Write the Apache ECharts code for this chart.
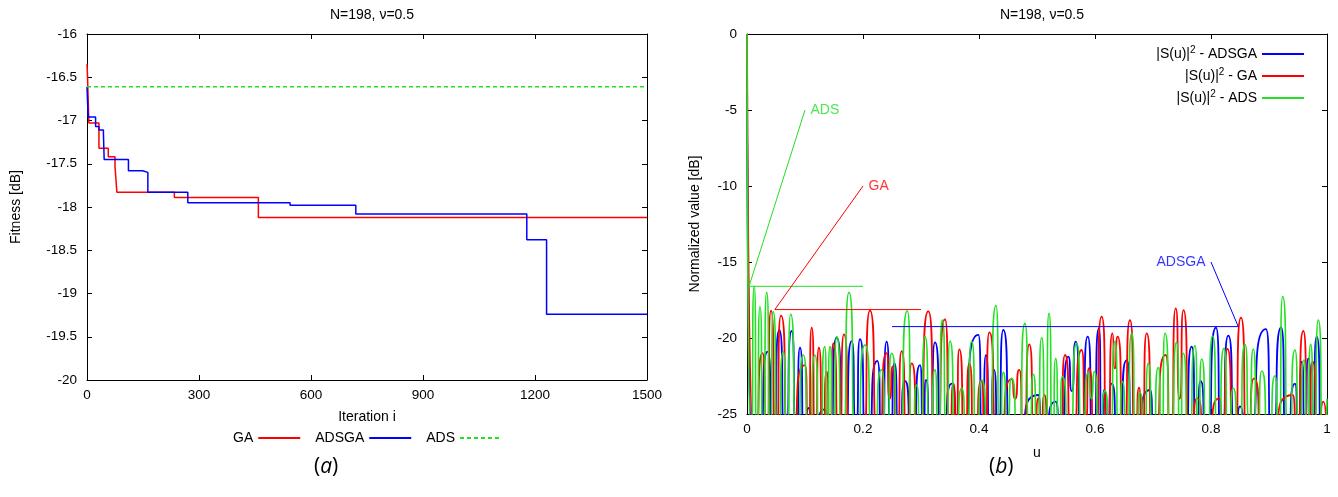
<!DOCTYPE html>
<html>
<head>
<meta charset="utf-8">
<title>N=198</title>
<script src="https://cdn.jsdelivr.net/npm/echarts@6/dist/echarts.min.js"></script>
<style>
  html, body { margin: 0; padding: 0; background: #fff; }
  #chart { width: 1338px; height: 497px; }
</style>
</head>
<body>
<div id="chart"></div>
<script>
// ---- left plot: fitness vs iteration (step curves) ----
var iterTicks = [0, 300, 600, 900, 1200, 1500];
var fitTicks = [-20, -19.5, -19, -18.5, -18, -17.5, -17, -16.5, -16];

var gaIter = [0, 1, 5, 32, 57, 75, 80, 234, 459, 1500];
var gaFit = [-16.35, -16.44, -17.03, -17.32, -17.42, -17.53, -17.83, -17.89, -18.12, -18.12];

var adsgaIter = [0, 3, 23, 32, 44, 46, 111, 149, 163, 270, 544, 720, 1178, 1231, 1500];
var adsgaFit = [-16.61, -16.96, -17.07, -17.11, -17.15, -17.45, -17.58, -17.60, -17.83, -17.95, -17.98, -18.08, -18.38, -19.24, -19.24];

var adsIter = [0, 1500];
var adsFit = [-16.61, -16.61];

// ---- right plot: normalized spectrum |S(u)|^2 in dB, [u, dB] (peaks and nulls) ----
var uTicks = [0, 0.2, 0.4, 0.6, 0.8, 1];
var dbTicks = [-25, -20, -15, -10, -5, 0];

var adsgaSpec = [
  [0,0],[0.009,-27],[0.02,-27],[0.0356,-20.9],[0.045,-27],[0.0557,-19.47],[0.066,-27],[0.077,-19.54],
  [0.085,-27],[0.0914,-20.64],[0.099,-27],[0.106,-24.6],[0.112,-27],[0.134,-24.7],[0.142,-27],
  [0.1546,-19.97],[0.168,-27],[0.1805,-20.2],[0.188,-26],[0.1948,-20.07],[0.206,-27],[0.2247,-21.51],
  [0.233,-27],[0.2408,-20.24],[0.248,-26.5],[0.254,-21.66],[0.262,-27],[0.2724,-22.83],[0.285,-27],
  [0.2983,-21.78],[0.304,-26],[0.3086,-22.76],[0.316,-27],[0.3241,-20.29],[0.336,-27],[0.3529,-23.0],
  [0.365,-27],[0.3989,-19.8],[0.406,-27],[0.412,-21.12],[0.419,-27],[0.4259,-22.1],[0.433,-27],
  [0.4419,-19.47],[0.455,-27],[0.5023,-23.75],[0.508,-27],[0.5322,-24.19],[0.54,-27],[0.554,-21.23],
  [0.56,-23.5],[0.5667,-20.24],[0.577,-27],[0.5874,-19.91],[0.597,-27],[0.6069,-19.36],[0.6115,-27],
  [0.616,-23.42],[0.621,-27],[0.6287,-23.0],[0.64,-27],[0.6546,-21.45],[0.665,-27],[0.6948,-23.42],
  [0.702,-27],[0.755,-27],[0.7667,-20.57],[0.775,-27],[0.7822,-22.83],[0.792,-27],[0.8086,-19.32],
  [0.818,-27],[0.8299,-19.85],[0.842,-27],[0.85,-24.5],[0.86,-27],[0.8948,-19.41],[0.905,-27],
  [0.921,-19.3],[0.93,-27],[0.9448,-23.0],[0.951,-27],[0.9564,-21.56],[0.962,-25.5],[0.9678,-21.34],
  [0.975,-27],[0.9822,-19.91],[0.992,-27],[1,-25.5]
];

var gaSpec = [
  [0,0],[0.013,-27],[0.027,-21.0],[0.034,-27],[0.0414,-18.2],[0.05,-27],[0.0586,-18.53],[0.072,-27],
  [0.1,-21.78],[0.106,-27],[0.1115,-19.32],[0.118,-27],[0.124,-20.64],[0.131,-27],[0.1374,-22.21],
  [0.143,-27],[0.1488,-20.35],[0.159,-27],[0.1672,-19.76],[0.178,-27],[0.2,-27],[0.212,-18.2],
  [0.226,-27],[0.2408,-21.0],[0.246,-24],[0.2512,-21.88],[0.259,-27],[0.2667,-20.86],[0.276,-27],
  [0.284,-21.67],[0.296,-27],[0.3126,-18.25],[0.326,-27],[0.3414,-18.77],[0.35,-27],[0.3557,-23.0],
  [0.361,-26],[0.366,-20.75],[0.376,-27],[0.3833,-21.67],[0.392,-27],[0.4046,-22.83],[0.41,-27],
  [0.4178,-19.63],[0.432,-27],[0.4563,-22.7],[0.462,-24],[0.4695,-22.1],[0.477,-27],[0.4868,-20.42],
  [0.496,-27],[0.5023,-23.97],[0.507,-27],[0.5126,-23.75],[0.52,-27],[0.54,-27],[0.5483,-21.12],
  [0.56,-27],[0.577,-20.79],[0.584,-25.5],[0.5897,-21.99],[0.6,-27],[0.6115,-18.6],[0.622,-27],
  [0.6299,-19.69],[0.634,-22],[0.6391,-19.91],[0.65,-27],[0.6603,-18.82],[0.67,-27],[0.6759,-23.26],
  [0.681,-27],[0.6891,-19.69],[0.7,-27],[0.7218,-21.12],[0.731,-27],[0.7391,-18.05],[0.746,-24],
  [0.7525,-18.16],[0.764,-27],[0.7765,-23.97],[0.79,-27],[0.8143,-23.97],[0.82,-27],[0.8282,-20.72],
  [0.84,-27],[0.8517,-18.66],[0.863,-27],[0.8741,-22.65],[0.89,-27],[0.9408,-23.75],[0.948,-27],
  [0.9592,-19.54],[0.968,-27],[0.9753,-21.56],[0.985,-27],[0.9937,-24.19],[1,-27]
];

var adsSpec = [
  [0,0],[0.007,-27],[0.0125,-16.6],[0.017,-27],[0.0224,-17.94],[0.028,-27],[0.034,-17.0],[0.04,-27],
  [0.0454,-18.27],[0.053,-27],[0.0626,-20.9],[0.069,-27],[0.0753,-18.44],[0.086,-27],[0.097,-21.12],
  [0.107,-27],[0.117,-21.12],[0.126,-27],[0.134,-20.57],[0.1385,-26],[0.143,-20.57],[0.149,-27],
  [0.1546,-19.91],[0.165,-27],[0.1759,-17.0],[0.188,-27],[0.2034,-20.46],[0.218,-27],[0.232,-22.1],
  [0.241,-27],[0.2494,-21.0],[0.262,-27],[0.2764,-18.22],[0.285,-27],[0.2925,-23.1],[0.299,-27],
  [0.3069,-19.91],[0.316,-27],[0.3241,-22.1],[0.33,-27],[0.3368,-18.82],[0.344,-26],[0.35,-20.2],
  [0.36,-27],[0.3701,-23.31],[0.379,-27],[0.3874,-20.24],[0.396,-27],[0.4046,-22.76],[0.417,-27],
  [0.4293,-17.87],[0.436,-27],[0.4419,-22.26],[0.449,-25.5],[0.4563,-22.65],[0.468,-27],[0.4793,-19.04],
  [0.487,-27],[0.4937,-22.39],[0.501,-27],[0.5081,-19.98],[0.515,-27],[0.5207,-18.38],[0.527,-27],
  [0.5322,-21.34],[0.538,-27],[0.5437,-22.54],[0.556,-27],[0.5684,-20.35],[0.578,-27],[0.5885,-22.26],
  [0.594,-24],[0.5988,-22.21],[0.608,-27],[0.6172,-23.48],[0.626,-27],[0.6345,-20.24],[0.641,-27],
  [0.6471,-22.87],[0.655,-27],[0.6632,-19.69],[0.671,-27],[0.6776,-23.57],[0.685,-27],[0.6919,-21.67],
  [0.7,-27],[0.7092,-21.95],[0.715,-27],[0.7207,-19.69],[0.731,-27],[0.7408,-20.29],[0.747,-27],
  [0.752,-21.0],[0.762,-27],[0.7724,-20.51],[0.778,-26],[0.784,-21.38],[0.793,-27],[0.8029,-19.87],
  [0.812,-27],[0.8224,-20.68],[0.83,-27],[0.8385,-23.31],[0.848,-27],[0.8586,-20.42],[0.866,-25.5],
  [0.873,-20.72],[0.88,-27],[0.8874,-22.17],[0.9,-27],[0.9103,-22.48],[0.917,-27],[0.9236,-17.28],
  [0.934,-27],[0.9448,-20.79],[0.952,-27],[0.9603,-21.45],[0.966,-27],[0.9718,-20.42],[0.978,-27],
  [0.985,-18.82],[0.994,-27],[1,-24]
];

// pointer lines for the peak side lobe levels
var adsPointer = [[0.1, -5], [0.0035, -16.6], [0.2, -16.6]];
var gaPointer = [[0.2, -10], [0.048, -18.13], [0.3, -18.13]];
var adsgaPointer = [[0.8, -15], [0.847, -19.25], [0.25, -19.25]];
var pointerLabels = [
  {name: 'ADS', value: [0.1, -5], pos: 'right', color: '#22e022'},
  {name: 'GA', value: [0.2, -10], pos: 'right', color: '#ff0000'},
  {name: 'ADSGA', value: [0.8, -15], pos: 'left', color: '#0000ff'}
];

var BLUE = '#0000ff', RED = '#ff0000', GREEN = '#22e022';
var FONT = 'Liberation Sans';

function pairs(xs, ys) {
  var out = [];
  for (var i = 0; i < xs.length; i++) out.push([xs[i], ys[i]]);
  return out;
}
function tickAxis(ticks, grid, pos, showLabel) {
  return {
    type: 'value', gridIndex: grid, position: pos,
    min: ticks[0], max: ticks[ticks.length - 1], interval: ticks[1] - ticks[0],
    axisLine: {show: true, onZero: false, lineStyle: {color: '#000', width: 1}},
    axisTick: {show: true, inside: true, length: 5, lineStyle: {color: '#000'}},
    axisLabel: {show: showLabel, color: '#000', fontFamily: FONT, fontSize: 13.5, margin: 8,
                formatter: function (v) { return String(v); }},
    splitLine: {show: false}
  };
}
var nameStyle = {color: '#000', fontFamily: FONT, fontSize: 14};

var x0 = tickAxis(iterTicks, 0, 'bottom', true);
x0.name = 'Iteration i'; x0.nameLocation = 'middle'; x0.nameGap = 30; x0.nameTextStyle = nameStyle;
var y0 = tickAxis(fitTicks, 0, 'left', true);
y0.name = 'Fitness [dB]'; y0.nameLocation = 'middle'; y0.nameGap = 64; y0.nameTextStyle = nameStyle;
y0.axisLabel.margin = 10;

var x1 = tickAxis(uTicks, 1, 'bottom', true);
x1.name = 'u'; x1.nameLocation = 'middle'; x1.nameGap = 32; x1.nameTextStyle = nameStyle;
var y1 = tickAxis(dbTicks, 1, 'left', true);
y1.name = 'Normalized value [dB]'; y1.nameLocation = 'middle'; y1.nameGap = 45; y1.nameTextStyle = nameStyle;
y1.axisLabel.margin = 10;

var supRich = {
  t: {fontFamily: FONT, fontSize: 14, color: '#000', lineHeight: 18},
  s: {fontFamily: FONT, fontSize: 10, color: '#000', lineHeight: 18, verticalAlign: 'top', padding: [0, 0, 8, 0]}
};

var chart = echarts.init(document.getElementById('chart'));
var option = {
  backgroundColor: '#fff',
  animation: false,
  title: [
    {text: 'N=198, \u03bd=0.5', left: 367, top: 3, textAlign: 'center',
     textStyle: {fontFamily: FONT, fontSize: 14, fontWeight: 'normal', color: '#000'}},
    {text: 'N=198, \u03bd=0.5', left: 1037, top: 3, textAlign: 'center',
     textStyle: {fontFamily: FONT, fontSize: 14, fontWeight: 'normal', color: '#000'}}
  ],
  grid: [
    {left: 87, right: 691, top: 34, bottom: 117},
    {left: 747, right: 11, top: 34, bottom: 83}
  ],
  legend: [
    {
      data: ['GA', 'ADSGA', 'ADS'], orient: 'horizontal', left: 228, top: 426,
      align: 'right', itemWidth: 42, itemHeight: 1, itemGap: 14,
      itemStyle: {opacity: 0},
      textStyle: {fontFamily: FONT, fontSize: 14, color: '#000'}
    },
    {
      data: ['sADSGA', 'sGA', 'sADS'], orient: 'vertical', right: 28, top: 40,
      align: 'right', itemWidth: 42, itemHeight: 1, itemGap: 4,
      itemStyle: {opacity: 0},
      formatter: function (name) {
        return '{t||S(u)|}{s|2}{t| - ' + name.substr(1) + '}';
      },
      textStyle: {rich: supRich}
    }
  ],
  xAxis: [x0, x1, tickAxis(iterTicks, 0, 'top', false), tickAxis(uTicks, 1, 'top', false)],
  yAxis: [y0, y1, tickAxis(fitTicks, 0, 'right', false), tickAxis(dbTicks, 1, 'right', false)],
  series: [
    {name: 'GA', type: 'line', xAxisIndex: 0, yAxisIndex: 0, step: 'end', symbol: 'none',
     lineStyle: {color: RED, width: 1.5}, itemStyle: {color: RED}, data: pairs(gaIter, gaFit)},
    {name: 'ADSGA', type: 'line', xAxisIndex: 0, yAxisIndex: 0, step: 'end', symbol: 'none',
     lineStyle: {color: BLUE, width: 1.5}, itemStyle: {color: BLUE}, data: pairs(adsgaIter, adsgaFit)},
    {name: 'ADS', type: 'line', xAxisIndex: 0, yAxisIndex: 0, symbol: 'none',
     lineStyle: {color: GREEN, width: 1.5, type: [4, 3]}, itemStyle: {color: GREEN}, data: pairs(adsIter, adsFit)},

    {name: 'sADSGA', type: 'line', xAxisIndex: 1, yAxisIndex: 1, symbol: 'none', smooth: 0.9, smoothMonotone: 'x',
     lineStyle: {color: BLUE, width: 1.8}, itemStyle: {color: BLUE}, data: adsgaSpec},
    {name: 'sGA', type: 'line', xAxisIndex: 1, yAxisIndex: 1, symbol: 'none', smooth: 0.9, smoothMonotone: 'x',
     lineStyle: {color: RED, width: 1.8}, itemStyle: {color: RED}, data: gaSpec},
    {name: 'sADS', type: 'line', xAxisIndex: 1, yAxisIndex: 1, symbol: 'none', smooth: 0.9, smoothMonotone: 'x',
     lineStyle: {color: GREEN, width: 1.6}, itemStyle: {color: GREEN}, data: adsSpec},

    {type: 'line', xAxisIndex: 1, yAxisIndex: 1, symbol: 'none', silent: true,
     lineStyle: {color: GREEN, width: 1}, data: adsPointer},
    {type: 'line', xAxisIndex: 1, yAxisIndex: 1, symbol: 'none', silent: true,
     lineStyle: {color: RED, width: 1}, data: gaPointer},
    {type: 'line', xAxisIndex: 1, yAxisIndex: 1, symbol: 'none', silent: true,
     lineStyle: {color: BLUE, width: 1}, data: adsgaPointer},
    {type: 'scatter', xAxisIndex: 1, yAxisIndex: 1, symbolSize: 1, silent: true,
     itemStyle: {color: 'rgba(0,0,0,0)'},
     data: pointerLabels.map(function (p) {
       return {name: p.name, value: p.value,
         label: {show: true, formatter: '{b}', position: p.pos, distance: 5, color: p.color,
                 fontFamily: FONT, fontSize: 14}};
     })}
  ],
  graphic: [
    {type: 'text', left: 314, top: 457,
     style: {text: '({i|a})', fontFamily: 'Open Sans', fontSize: 21, fill: '#000',
             rich: {i: {fontFamily: 'Open Sans', fontSize: 21, fontStyle: 'italic', fill: '#000'}}}},
    {type: 'text', left: 989, top: 457,
     style: {text: '({i|b})', fontFamily: 'Open Sans', fontSize: 21, fill: '#000',
             rich: {i: {fontFamily: 'Open Sans', fontSize: 21, fontStyle: 'italic', fill: '#000'}}}}
  ]
};
chart.setOption(option);
</script>
</body>
</html>
